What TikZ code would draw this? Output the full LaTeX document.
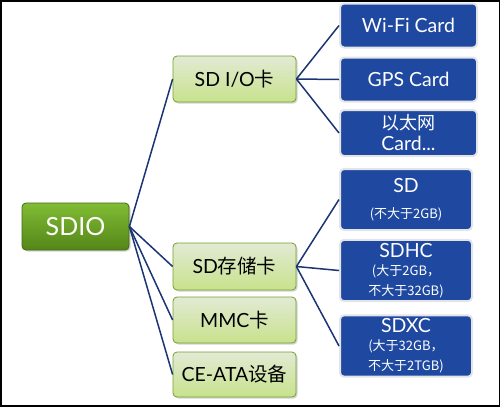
\documentclass[tikz,border=0pt]{standalone}
\usepackage{fontspec}
\setmainfont{Lato}
\newfontfamily\cjk{Noto Sans CJK SC}
\usetikzlibrary{shadows}

\definecolor{cardblue}{RGB}{31,73,160}
\definecolor{cardrim}{RGB}{226,228,232}
\definecolor{linknavy}{RGB}{27,52,115}
\definecolor{roottop}{RGB}{128,188,52}
\definecolor{rootbot}{RGB}{84,134,24}
\definecolor{rootrim}{RGB}{66,104,18}
\definecolor{midtop}{RGB}{226,234,212}
\definecolor{midbot}{RGB}{200,226,140}
\definecolor{midrim}{RGB}{118,160,48}

\newcommand{\memo}[1]{{\cjk\fontsize{13}{14}\selectfont #1}}

\tikzset{
  rootbox/.style={rounded corners=4pt, draw=rootrim, line width=0.8pt,
    top color=roottop, bottom color=rootbot, text=white,
    minimum width=107pt, minimum height=47pt,
    font=\fontsize{25}{27}\selectfont,
    drop shadow={shadow xshift=1.5pt, shadow yshift=-1.5pt, opacity=0.35}},
  midbox/.style={rounded corners=4pt, draw=midrim, line width=0.8pt,
    top color=midtop, bottom color=midbot, text=black,
    minimum width=123pt, minimum height=46pt,
    font=\fontsize{19.5}{22}\selectfont,
    drop shadow={shadow xshift=1.5pt, shadow yshift=-1.5pt, opacity=0.35}},
  cardbox/.style={rounded corners=4pt, draw=cardrim, line width=2pt,
    fill=cardblue, text=white, align=center,
    minimum width=137pt, minimum height=44pt,
    font=\fontsize{19.5}{21}\selectfont},
  link/.style={linknavy, line width=1.5pt}
}

\begin{document}
\begin{tikzpicture}[x=1pt,y=-1pt]
  \useasboundingbox (0,0) rectangle (502,408);
  \draw[line width=1.6pt] (1,1) rectangle (499.5,406);

  % root and first level
  \node[rootbox] (sdio) at (75.5,226.5) {SDIO};
  \node[midbox] (sdioCard) at (234.5,79) {SD I/O{\cjk 卡}};
  \node[midbox, minimum height=47pt] (storeCard) at (234.5,266.5) {SD{\cjk 存储卡}};
  \node[midbox] (mmcCard) at (234.5,320) {MMC{\cjk 卡}};
  \node[midbox, minimum height=45pt] (ceata) at (234.5,374.5) {CE-ATA{\cjk 设备}};

  % I/O cards
  \node[cardbox] (wifi) at (408.5,25.5) {Wi-Fi Card};
  \node[cardbox] (gps) at (408.5,79.5) {GPS Card};
  \node[cardbox, minimum height=46pt] (eth) at (408.5,133)
    {{\cjk\fontsize{18}{19}\selectfont 以太网}\\Card...};

  % memory cards
  \node[cardbox, minimum width=132pt, minimum height=61pt] (sd) at (406,199.5)
    {SD\\[5pt]\memo{(不大于2GB)}};
  \node[cardbox, minimum width=132pt, minimum height=61pt] (sdhc) at (406,270.5)
    {SDHC\\[-3pt]\memo{(大于2GB，}\\[-1pt]\memo{不大于32GB)}};
  \node[cardbox, minimum width=132pt, minimum height=60pt] (sdxc) at (406,346)
    {SDXC\\[-3pt]\memo{(大于32GB，}\\[-1pt]\memo{不大于2TGB)}};

  % connectors
  \foreach \t in {sdioCard,storeCard,mmcCard,ceata}
    \draw[link] (sdio.east) -- (\t.west);
  \foreach \t in {wifi,gps,eth}
    \draw[link] (sdioCard.east) -- (\t.west);
  \foreach \t in {sd,sdhc,sdxc}
    \draw[link] (storeCard.east) -- (\t.west);
\end{tikzpicture}
\end{document}
